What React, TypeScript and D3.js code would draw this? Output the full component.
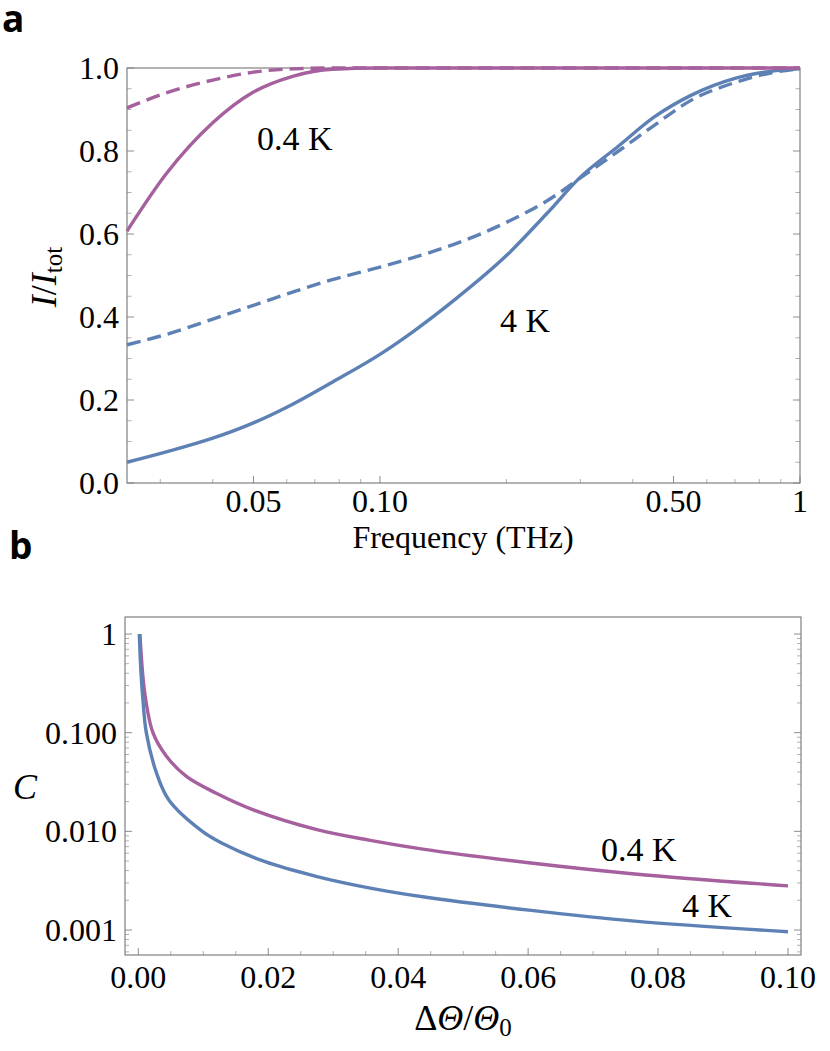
import * as d3 from "d3";

// panel a: normalised intensity vs frequency (log x)
const freqs = [0.025, 0.031, 0.04, 0.05, 0.062, 0.077, 0.1, 0.12, 0.15, 0.2, 0.25, 0.3, 0.37, 0.45, 0.55, 0.7, 0.85, 1.0];
const solid4K = [0.05, 0.075, 0.108, 0.145, 0.19, 0.243, 0.31, 0.365, 0.44, 0.548, 0.65, 0.737, 0.812, 0.882, 0.934, 0.975, 0.992, 0.998];
const dashed4K = [0.333, 0.358, 0.395, 0.428, 0.46, 0.49, 0.52, 0.543, 0.575, 0.628, 0.68, 0.735, 0.8, 0.862, 0.922, 0.965, 0.988, 0.998];
const solid04K = [0.607, 0.745, 0.868, 0.942, 0.98, 0.997, 1.0, 1.0, 1.0, 1.0, 1.0, 1.0, 1.0, 1.0, 1.0, 1.0, 1.0, 1.0];
const dashed04K = [0.904, 0.94, 0.971, 0.99, 0.998, 1.0, 1.0, 1.0, 1.0, 1.0, 1.0, 1.0, 1.0, 1.0, 1.0, 1.0, 1.0, 1.0];

const freqTicksMajor = [0.05, 0.1, 0.5, 1];
const freqTickLabels = ["0.05", "0.10", "0.50", "1"];
const freqTicksMinor = [0.03, 0.04, 0.06, 0.07, 0.08, 0.09, 0.2, 0.3, 0.4, 0.6, 0.7, 0.8, 0.9];
const intensityTicks = [0, 0.2, 0.4, 0.6, 0.8, 1.0];

// panel b: contrast vs angle deviation (log y)
const theta4K = [0.00015, 0.0004, 0.0007, 0.00123, 0.0028, 0.0047, 0.0096, 0.0129, 0.0194, 0.0275, 0.0357, 0.0438, 0.0601, 0.0764, 0.1];
const contrast4K = [1.0, 0.42, 0.22, 0.1, 0.039, 0.0208, 0.0103, 0.00757, 0.00495, 0.00348, 0.00266, 0.00217, 0.00159, 0.00123, 0.00096];
const theta04K = [0.00025, 0.001, 0.00225, 0.0043, 0.0074, 0.012, 0.0176, 0.0275, 0.0357, 0.0438, 0.0601, 0.0764, 0.1];
const contrast04K = [1.0, 0.25, 0.1, 0.058, 0.036, 0.0243, 0.0166, 0.0104, 0.0081, 0.0066, 0.0048, 0.0037, 0.0028];

const thetaTicks = [0, 0.02, 0.04, 0.06, 0.08, 0.1];
const thetaTickLabels = ["0.00", "0.02", "0.04", "0.06", "0.08", "0.10"];
const contrastTicks = [1, 0.1, 0.01, 0.001];
const contrastTickLabels = ["1", "0.100", "0.010", "0.001"];

const BLUE = "#5E81B5";
const PURPLE = "#A5609D";
const FRAME = "#808080";
const TICK = "#8c8c8c";
const MINOR = "#b0b0b0";
const SERIF = "Liberation Serif";
const SANS = "Open Sans";

export default function App() {
  // ---- panel a scales
  const xa = d3.scaleLog().domain([0.025, 1]).range([127, 800]);
  const ya = d3.scaleLinear().domain([0, 1]).range([483, 68]);
  const lineA = (vals: number[]) =>
    d3.line<number>()
      .x((_, i) => xa(freqs[i]))
      .y((d) => ya(d))
      .curve(d3.curveMonotoneX)(vals) as string;
  const yMinorA = d3.range(0, 1.0001, 0.05).map((v) => +v.toFixed(2));

  // ---- panel b scales
  const xb = d3.scaleLinear().domain([-0.00205, 0.102]).range([125, 801]);
  const yb = d3.scaleLog().domain([0.000558, 1.487]).range([955, 617]);
  const lineB = (xs: number[], ys: number[]) =>
    d3.line<number>()
      .x((_, i) => xb(xs[i]))
      .y((d) => yb(d))
      .curve(d3.curveCatmullRom.alpha(0.5))(ys) as string;
  const xMinorB = d3.range(0, 0.1001, 0.005);
  const yMinorB: number[] = [];
  [0.0001, 0.001, 0.01, 0.1].forEach((dec) => {
    for (let k = 2; k <= 9; k++) {
      const v = dec * k;
      if (v >= 0.000558 && v <= 1.487) yMinorB.push(v);
    }
  });

  const fs = 32;

  return (
    <svg width={830} height={1051} style={{ position: "absolute", left: 0, top: 0, background: "#fff" }}>
      {/* ================= panel a ================= */}
      <text x={2} y={32} style={{ fontFamily: SANS }} fontWeight={700} fontSize={37}>a</text>

      {yMinorA.map((v) => {
        const major = Math.abs(v * 5 - Math.round(v * 5)) < 1e-6;
        const len = major ? 7 : 4.5;
        return (
          <g key={"yma" + v} stroke={major ? TICK : MINOR} strokeWidth={1}>
            <line x1={127} x2={127 + len} y1={ya(v)} y2={ya(v)} />
            <line x1={800} x2={800 - len} y1={ya(v)} y2={ya(v)} />
          </g>
        );
      })}
      {freqTicksMajor.map((v) => (
        <line key={"xMa" + v} x1={xa(v)} x2={xa(v)} y1={483} y2={476} stroke={TICK} />
      ))}
      {freqTicksMinor.map((v) => (
        <line key={"xma" + v} x1={xa(v)} x2={xa(v)} y1={483} y2={479} stroke={MINOR} />
      ))}
      <rect x={127} y={68} width={673} height={415} fill="none" stroke={FRAME} strokeWidth={1.2} />

      {intensityTicks.map((v) => (
        <text key={"yla" + v} x={119} y={ya(v) + 11} textAnchor="end" style={{ fontFamily: SERIF }} fontSize={fs}>
          {v.toFixed(1)}
        </text>
      ))}
      {freqTicksMajor.map((v, i) => (
        <text key={"xla" + v} x={xa(v)} y={512} textAnchor="middle" style={{ fontFamily: SERIF }} fontSize={fs}>
          {freqTickLabels[i]}
        </text>
      ))}

      <g fill="none" strokeWidth={3.4} strokeLinejoin="round">
        <path d={lineA(dashed4K)} stroke={BLUE} strokeDasharray="14,7" />
        <path d={lineA(solid4K)} stroke={BLUE} />
        <path d={lineA(dashed04K)} stroke={PURPLE} strokeDasharray="14,7" />
        <path d={lineA(solid04K)} stroke={PURPLE} />
      </g>

      <text x={257} y={150} style={{ fontFamily: SERIF }} fontSize={34} xmlSpace="preserve">0.4 K</text>
      <text x={500} y={332} style={{ fontFamily: SERIF }} fontSize={34} xmlSpace="preserve">4 K</text>
      <text x={463} y={548} textAnchor="middle" style={{ fontFamily: SERIF }} fontSize={fs}>Frequency (THz)</text>
      <text transform="translate(56,277) rotate(-90)" textAnchor="middle" style={{ fontFamily: SERIF }} fontSize={36}>
        <tspan fontStyle="italic">I</tspan>
        <tspan>/</tspan>
        <tspan fontStyle="italic">I</tspan>
        <tspan fontSize={25} dy={6}>tot</tspan>
      </text>

      {/* ================= panel b ================= */}
      <text x={9} y={559} style={{ fontFamily: SANS }} fontWeight={700} fontSize={37}>b</text>

      {yMinorB.map((v) => (
        <g key={"ymb" + v} stroke={MINOR} strokeWidth={1}>
          <line x1={125} x2={129} y1={yb(v)} y2={yb(v)} />
          <line x1={801} x2={797} y1={yb(v)} y2={yb(v)} />
        </g>
      ))}
      {contrastTicks.map((v) => (
        <g key={"yMb" + v} stroke={TICK} strokeWidth={1}>
          <line x1={125} x2={132} y1={yb(v)} y2={yb(v)} />
          <line x1={801} x2={794} y1={yb(v)} y2={yb(v)} />
        </g>
      ))}
      {xMinorB.map((v) => {
        const major = Math.abs(v * 50 - Math.round(v * 50)) < 1e-6;
        return (
          <line key={"xmb" + v} x1={xb(v)} x2={xb(v)} y1={955} y2={major ? 948 : 951}
            stroke={major ? TICK : MINOR} />
        );
      })}
      <rect x={125} y={617} width={676} height={338} fill="none" stroke={FRAME} strokeWidth={1.2} />

      {contrastTicks.map((v, i) => (
        <text key={"ylb" + v} x={117} y={yb(v) + 11} textAnchor="end" style={{ fontFamily: SERIF }} fontSize={fs}>
          {contrastTickLabels[i]}
        </text>
      ))}
      {thetaTicks.map((v, i) => (
        <text key={"xlb" + v} x={xb(v)} y={988} textAnchor="middle" style={{ fontFamily: SERIF }} fontSize={fs}>
          {thetaTickLabels[i]}
        </text>
      ))}

      <g fill="none" strokeWidth={3.4} strokeLinejoin="round">
        <path d={lineB(theta04K, contrast04K)} stroke={PURPLE} />
        <path d={lineB(theta4K, contrast4K)} stroke={BLUE} />
      </g>

      <text x={601} y={861} style={{ fontFamily: SERIF }} fontSize={34} xmlSpace="preserve">0.4 K</text>
      <text x={682} y={917} style={{ fontFamily: SERIF }} fontSize={34} xmlSpace="preserve">4 K</text>
      <text x={13} y={799} style={{ fontFamily: SERIF }} fontStyle="italic" fontSize={36}>C</text>
      <text x={463} y={1030} textAnchor="middle" style={{ fontFamily: SERIF }} fontSize={36}>
        <tspan>Δ</tspan>
        <tspan fontStyle="italic">Θ</tspan>
        <tspan>/</tspan>
        <tspan fontStyle="italic">Θ</tspan>
        <tspan fontSize={25} dy={6}>0</tspan>
      </text>
    </svg>
  );
}
